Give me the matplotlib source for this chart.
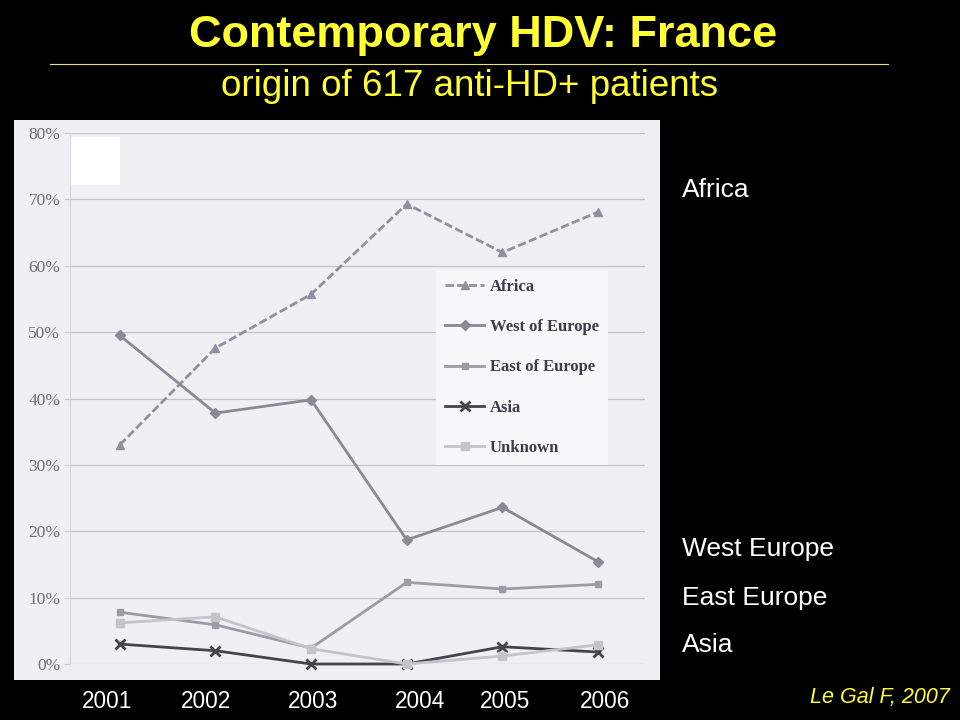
import matplotlib
matplotlib.use("Agg")
import matplotlib.pyplot as plt
from matplotlib.patches import Rectangle
from matplotlib.lines import Line2D

# ── data (percent of patients) ──
years = [2001, 2002, 2003, 2004, 2005, 2006]
africa = [33.0, 47.6, 55.7, 69.3, 62.0, 68.1]
west_europe = [49.5, 37.8, 39.8, 18.7, 23.6, 15.4]
east_europe = [7.8, 5.9, 2.4, 12.3, 11.3, 12.0]
asia = [3.0, 2.0, 0.0, 0.0, 2.6, 1.8]
unknown = [6.2, 7.1, 2.3, 0.0, 1.2, 2.9]

y_ticks = [0, 10, 20, 30, 40, 50, 60, 70, 80]
year_labels = ["2001", "2002", "2003", "2004", "2005", "2006"]
year_label_x = [107, 206, 313, 420, 505, 605]   # px positions under the scan
side_labels = ["Africa", "West Europe", "East Europe", "Asia"]
side_label_y = [190, 549, 598, 645]

TITLE = "Contemporary HDV: France"
SUBTITLE = "origin of 617 anti-HD+ patients"
CREDIT = "Le Gal F, 2007"

YELLOW = "#ffff33"
SANS = "Liberation Sans"
SERIF = "Liberation Serif"
SCAN_BG = "#eef0f4"

W, H = 960, 720
fig = plt.figure(figsize=(9.6, 7.2), dpi=100, facecolor="black")

# scanned picture background (own axes, drawn first)
bg = fig.add_axes([14 / W, 1 - 680 / H, 646 / W, 560 / H])
bg.set_facecolor(SCAN_BG)
bg.set_xlim(0, 646)
bg.set_ylim(560, 0)
bg.set_xticks([])
bg.set_yticks([])
for s in bg.spines.values():
    s.set_visible(False)
# little white patch in the top-left corner of the scan
bg.add_patch(Rectangle((56, 17), 50, 48, facecolor="white", edgecolor="none"))

ax = fig.add_axes([70 / W, 1 - 664 / H, 575 / W, 531 / H])
ax.patch.set_alpha(0)
ax.set_xlim(2000.48, 2006.49)
ax.set_ylim(0, 80)

series = [
    ("Africa", africa, dict(color="#9090a0", marker="^", ls=(0, (3, 1.2)), lw=2.0, ms=6)),
    ("West of Europe", west_europe, dict(color="#8a8a96", marker="D", ls="-", lw=2.0, ms=5)),
    ("East of Europe", east_europe, dict(color="#9c9ca8", marker="s", ls="-", lw=2.0, ms=5)),
    ("Asia", asia, dict(color="#44444c", marker="x", ls="-", lw=2.0, ms=7, mew=2)),
    ("Unknown", unknown, dict(color="#c4c4cc", marker="s", ls="-", lw=2.0, ms=6)),
]
for name, vals, style in series:
    ax.plot(years, vals, label=name, clip_on=False, zorder=4, **style)

ax.set_yticks(y_ticks)
ax.set_yticklabels([f"{t}%" for t in y_ticks], fontfamily=SERIF,
                   fontsize=12.5, color="#6e6e78")
ax.yaxis.grid(True, color="#c0c3ca", lw=0.9)
ax.set_axisbelow(True)
ax.set_xticks(years)
ax.set_xticklabels([])
ax.tick_params(axis="y", length=4, color="#c8ccd2", pad=3)
ax.tick_params(axis="x", length=0)
for side in ("top", "right", "bottom"):
    ax.spines[side].set_visible(False)
ax.spines["left"].set_color("#d4d7dc")

leg = ax.legend(loc="upper left", bbox_to_anchor=(0.637, 0.742),
                prop=dict(family=SERIF, weight="bold", size=12),
                labelspacing=1.45, handlelength=2.3, handletextpad=0.35,
                borderpad=0.55, borderaxespad=0,
                frameon=True, fancybox=False)
leg.get_frame().set_facecolor("#f7f8fa")
leg.get_frame().set_edgecolor("none")
leg.get_frame().set_alpha(1)
for t in leg.get_texts():
    t.set_color("#3c3c4a")

# slide title block
fig.text(483 / W, 1 - 35 / H, TITLE, ha="center", va="center", color=YELLOW,
         fontfamily=SANS, fontweight="bold", fontsize=32.5)
fig.add_artist(Line2D([50 / W, 888 / W], [1 - 64 / H, 1 - 64 / H],
                      transform=fig.transFigure, color="#e8e070", lw=0.8))
fig.text(470 / W, 1 - 86 / H, SUBTITLE, ha="center", va="center", color=YELLOW,
         fontfamily=SANS, fontsize=26.5)

for lbl, x in zip(year_labels, year_label_x):
    fig.text(x / W, 1 - 701 / H, lbl, ha="center", va="center", color="white",
             fontfamily=SANS, fontsize=16.3)

for lbl, y in zip(side_labels, side_label_y):
    fig.text(682 / W, 1 - y / H, lbl, ha="left", va="center", color="white",
             fontfamily=SANS, fontsize=19)

fig.text(950 / W, 1 - 698 / H, CREDIT, ha="right", va="center", color=YELLOW,
         fontfamily=SANS, fontstyle="italic", fontsize=15.5)

fig.savefig("out.png", dpi=100, facecolor="black")
